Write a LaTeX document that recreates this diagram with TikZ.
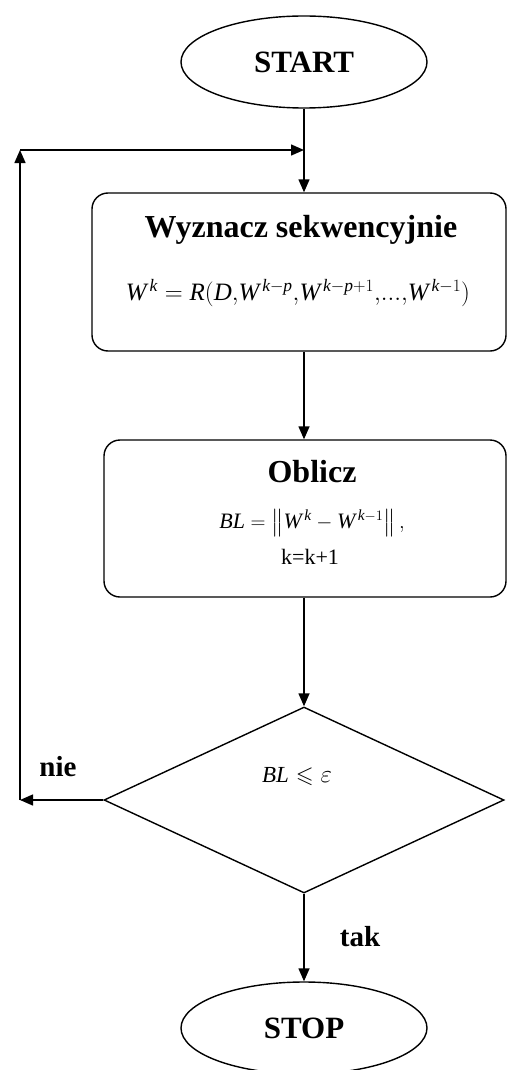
\documentclass[tikz,border=0pt]{standalone}
\usepackage{amssymb}
\usepackage{fontspec}
\setmainfont{Liberation Serif}
\usetikzlibrary{shapes.geometric,arrows.meta}

\newcommand{\mi}[1]{\mathit{#1}}
\newcommand{\fs}[1]{\fontsize{#1}{#1}\selectfont}

\begin{document}
\begin{tikzpicture}[x=1pt,y=-1pt,
  line width=1.4pt,
  arr/.style={-{Triangle[length=13pt,width=11pt]}},
  term/.style={draw, ellipse, inner sep=0pt, minimum width=246pt,
    minimum height=92pt, font=\bfseries\fs{31}},
  proc/.style={draw, rounded corners=16pt, inner sep=0pt},
  dec/.style={draw, diamond, inner sep=0pt, minimum width=400pt,
    minimum height=186pt},
  title/.style={font=\bfseries\fs{32}, inner sep=0pt},
  formula/.style={inner sep=0pt},
  answer/.style={font=\bfseries\fs{29}, inner sep=0pt}
]
\useasboundingbox (0,0) rectangle (508,1070);

% terminals, process boxes and the decision
\node[term] (start) at (304,62) {START};

\node[proc, minimum width=414pt, minimum height=158pt] (b1) at (299,272) {};
\node[title] (b1t) at (301,230) {Wyznacz sekwencyjnie};
\node[formula, font=\fs{25}] (b1f) at (298,293)
  {$\mi{W}^{\,\mi{k}}=\mi{R}(\mi{D}{,}\mi{W}^{\,\mi{k}-\mi{p}}{,}\mi{W}^{\,\mi{k}-\mi{p}+1}{,}\mathrm{...}{,}\mi{W}^{\,\mi{k}-1})$};

\node[proc, minimum width=402pt, minimum height=157pt] (b2) at (305,518.5) {};
\node[title] (b2t) at (312,472) {Oblicz};
\node[formula, font=\fs{22}] (b2f) at (312,523)
  {$\mi{BL}=\left\|\rule[-6pt]{0pt}{24pt}\mi{W}^{\,\mi{k}}-\mi{W}^{\,\mi{k}-1}\right\|,$};
\node[formula, font=\fs{22}] (b2k) at (310,557) {k=k+1};

\node[dec] (d) at (304,800) {};
\node[formula, font=\fs{23}] (dt) at (297,777) {$\mi{BL}\leqslant\varepsilon$};

\node[term] (stop) at (304,1028) {STOP};

% branch labels
\node[answer] (nie) at (58,767) {nie};
\node[answer] (tak) at (360,937) {tak};

% connectors
\coordinate (nw) at (20,150);
\coordinate (sw) at (20,800);
\draw[arr] (start.south) -- (start.south |- b1.north);
\draw[arr] (start.south |- b1.south) -- (start.south |- b2.north);
\draw[arr] (start.south |- b2.south) -- (d.north);
\draw[arr] (d.south) -- (stop.north);
\draw[arr] (d.west) -- (sw);
\draw[arr] (sw) -- (nw);
\draw[arr] (nw) -- (start.south |- nw);
\end{tikzpicture}
\end{document}
